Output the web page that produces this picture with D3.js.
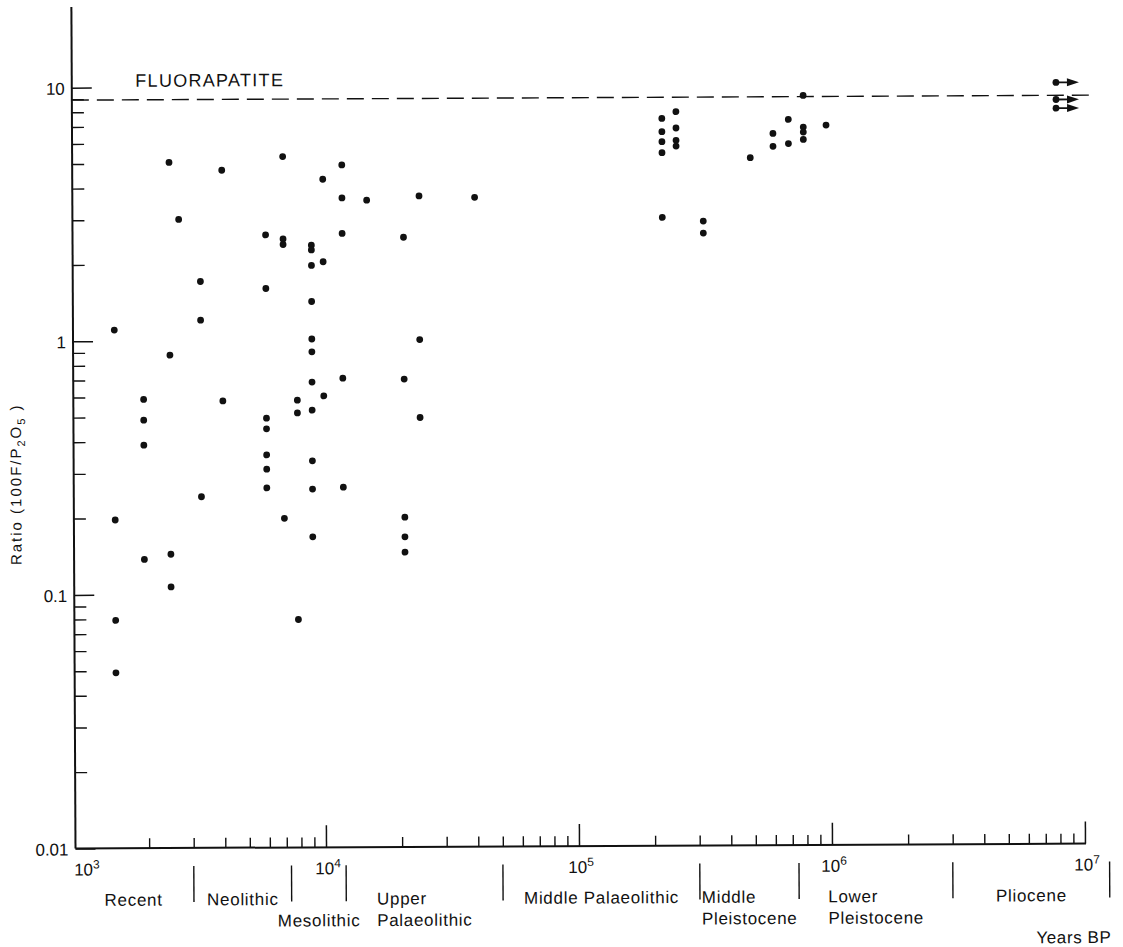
<!DOCTYPE html>
<html>
<head>
<meta charset="utf-8">
<script src="https://cdn.jsdelivr.net/npm/d3@7"></script>
<style>
  body { margin: 0; background: #fff; }
  svg { display: block; }
  text { font-family: "Liberation Sans", Arial, Helvetica, sans-serif; fill: #111; }
</style>
</head>
<body>
<svg id="chart" width="1123" height="947"></svg>
<script>
// ---------------- data ----------------
// ages (years BP) of each column of samples
const ageColumns = [1490, 1940, 2470, 2690, 3270, 3990, 5930, 6950, 7860, 8990,
  10000, 11900, 14900, 20800, 24000, 39800,
  219500, 249600, 318600, 490000, 603000, 694000, 795000, 978000];
// fluorine ratios (100F/P2O5) of the samples in each column
const ratioColumns = [
  [1.105, 0.197, 0.0792, 0.0492],
  [0.588, 0.487, 0.388, 0.1376],
  [5.05, 0.878, 0.144, 0.107],
  [3.01],
  [1.711, 1.204, 0.2424],
  [4.694, 0.578],
  [2.605, 1.601, 0.4934, 0.4477, 0.3535, 0.3105, 0.262],
  [5.30, 2.509, 2.385, 0.1985],
  [0.580, 0.5167, 0.0792],
  [2.368, 2.268, 1.970, 1.420, 1.010, 0.899, 0.683, 0.5296, 0.3343, 0.2586, 0.1677],
  [4.307, 2.036, 0.6024],
  [4.898, 3.632, 2.631, 0.707, 0.2628],
  [3.553],
  [2.534, 0.699, 0.1996, 0.167, 0.1453],
  [3.685, 1.0, 0.4929],
  [3.63],
  [7.37, 6.534, 5.967, 5.398, 3.001],
  [7.834, 6.751, 6.037, 5.73],
  [2.896, 2.598],
  [5.14],
  [6.40, 5.69],
  [7.265, 5.83],
  [9.025, 6.77, 6.47, 6.05],
  [6.887]
];
// Pliocene samples (minimum ages, drawn with arrows)
const arrowAges = [7.94e6, 7.94e6, 7.94e6];
const arrowRatios = [10.04, 8.6, 7.95];
const fluorapatiteRatio = 8.93;
const fluorapatiteLabel = "FLUORAPATITE";

const xMajorTicks = [1e4, 1e5, 1e6, 1e7];
const xTickLabelValues = [1e3, 1e4, 1e5, 1e6, 1e7];
const xTickExponents = ["3", "4", "5", "6", "7"];
const yMajorTicks = [0.01, 0.1, 1, 10];
const yTickLabels = ["0.01", "0.1", "1", "10"];

const eraBoundaries = [3000, 7300, 12000, 50000, 300000, 740000, 3000000, 12500000];
const eraNames = [["Recent"], ["Neolithic"], ["", "Mesolithic"], ["Upper", "Palaeolithic"],
  ["Middle Palaeolithic"], ["Middle", "Pleistocene"], ["Lower", "Pleistocene"], ["Pliocene"]];
const xTitle = "Years BP";

// ---------------- layout ----------------
const axisX = 75.5, axisY = 848.5, scanTilt = -0.28;
const ink = "#111";

const x = d3.scaleLog().domain([1e3, 1e7]).range([73, 1085]);
const y = d3.scaleLog().domain([0.01, 20.8]).range([axisY, 7]);

const svg = d3.select("#chart");
const g = svg.append("g").attr("transform", `rotate(${scanTilt},${axisX},${axisY})`);

// ---------- Y axis ----------
const yMinor = [];
for (let e = -2; e <= 0; e++) for (let m = 2; m <= 9; m++) yMinor.push(+(m * Math.pow(10, e)).toPrecision(3));

g.append("g").attr("transform", `translate(${axisX},0)`).attr("color", ink)
  .call(d3.axisLeft(y).tickValues(yMinor).tickSize(-12).tickFormat(""))
  .call(s => { s.select(".domain").remove(); s.selectAll("line").attr("stroke-width", 1.4); });

g.append("g").attr("transform", `translate(${axisX},0)`).attr("color", ink)
  .call(d3.axisLeft(y).tickValues(yMajorTicks).tickSize(-20).tickPadding(7)
    .tickFormat((d, i) => yTickLabels[i]))
  .call(s => {
    s.select(".domain").remove();
    s.selectAll("line").attr("stroke-width", 1.5);
    s.selectAll("text").style("font-size", "17px").attr("dy", "0.38em");
  });

g.append("line").attr("x1", axisX).attr("x2", axisX)
  .attr("y1", y(0.01)).attr("y2", y(y.domain()[1]))
  .attr("stroke", ink).attr("stroke-width", 2);

// Y title
const yt = g.append("text")
  .attr("transform", `translate(23, 484) rotate(-90)`)
  .attr("text-anchor", "middle")
  .style("font-size", "15px").style("letter-spacing", "2px");
yt.append("tspan").text("Ratio (100F/P");
yt.append("tspan").attr("baseline-shift", "-4").style("font-size", "11px").text("2");
yt.append("tspan").text("O");
yt.append("tspan").attr("baseline-shift", "-4").style("font-size", "11px").text("5");
yt.append("tspan").text(" )");

// ---------- X axis ----------
const xMinor = [];
for (let e = 3; e <= 6; e++) for (let m = 2; m <= 9; m++) xMinor.push(m * Math.pow(10, e));

g.append("g").attr("transform", `translate(0,${axisY})`).attr("color", ink)
  .call(d3.axisBottom(x).tickValues(xMinor).tickSize(-10).tickFormat(""))
  .call(s => { s.select(".domain").remove(); s.selectAll("line").attr("stroke-width", 1.4); });

g.append("g").attr("transform", `translate(0,${axisY})`).attr("color", ink)
  .call(d3.axisBottom(x).tickValues(xMajorTicks).tickSize(-22).tickFormat(""))
  .call(s => { s.select(".domain").remove(); s.selectAll("line").attr("stroke-width", 1.5); });

g.append("line").attr("x1", axisX).attr("x2", x(1e7) + 1)
  .attr("y1", axisY).attr("y2", axisY)
  .attr("stroke", ink).attr("stroke-width", 2);

// x tick labels 10^n
xTickLabelValues.forEach((v, i) => {
  const t = g.append("text")
    .attr("x", i === 0 ? x(v) + 1 : x(v) + 2)
    .attr("y", axisY + 27)
    .attr("text-anchor", i === 0 ? "start" : "middle")
    .style("font-size", "17px");
  t.append("tspan").text("10");
  t.append("tspan").attr("dy", -7).style("font-size", "12px").text(xTickExponents[i]);
});

// era boundaries and names
const eraStarts = [x.domain()[0], ...eraBoundaries.slice(0, -1)];
g.selectAll(".era-line").data(eraBoundaries).join("line")
  .attr("class", "era-line")
  .attr("x1", d => x(d)).attr("x2", d => x(d))
  .attr("y1", axisY + 18).attr("y2", axisY + 54)
  .attr("stroke", ink).attr("stroke-width", 1.4);

eraNames.forEach((lines, i) => {
  const cx = x(Math.sqrt(eraStarts[i] * eraBoundaries[i]));
  const texts = [];
  lines.forEach((ln, j) => {
    if (!ln) return;
    texts.push(g.append("text")
      .attr("x", cx).attr("y", axisY + 57.5 + j * 21.5)
      .attr("text-anchor", "middle")
      .style("font-size", "17px").style("letter-spacing", "0.7px")
      .text(ln));
  });
  if (texts.length > 1) {
    const w = d3.max(texts, t => t.node().getComputedTextLength());
    texts.forEach(t => t.attr("text-anchor", "start").attr("x", cx - w / 2));
  }
});

g.append("text").attr("x", 1111).attr("y", axisY + 99.5)
  .attr("text-anchor", "end").style("font-size", "17px").style("letter-spacing", "0.6px")
  .text(xTitle);

// ---------- fluorapatite line ----------
g.append("line")
  .attr("x1", axisX).attr("x2", x(1e7) + 15)
  .attr("y1", y(fluorapatiteRatio)).attr("y2", y(fluorapatiteRatio))
  .attr("stroke", ink).attr("stroke-width", 1.4).attr("stroke-dasharray", "17,8");
g.append("text").attr("x", 139).attr("y", y(fluorapatiteRatio) - 13)
  .style("font-size", "18px").style("letter-spacing", "1.3px")
  .text(fluorapatiteLabel);

// ---------- points ----------
const points = ageColumns.flatMap((a, i) => ratioColumns[i].map(r => ({ age: a, ratio: r })));
g.selectAll(".pt").data(points).join("circle")
  .attr("class", "pt")
  .attr("cx", d => x(d.age)).attr("cy", d => y(d.ratio))
  .attr("r", 3.4).attr("fill", ink);

// arrows (Pliocene)
const arrows = arrowAges.map((a, i) => ({ age: a, ratio: arrowRatios[i] }));
const ag = g.selectAll(".arrow").data(arrows).join("g").attr("class", "arrow")
  .attr("transform", d => `translate(${x(d.age)},${y(d.ratio)})`);
ag.append("circle").attr("r", 3.4).attr("fill", ink);
ag.append("line").attr("x1", 0).attr("x2", 14).attr("y1", 0).attr("y2", 0)
  .attr("stroke", ink).attr("stroke-width", 1.8);
ag.append("path").attr("d", "M11,-4 L23,0 L11,4 Z").attr("fill", ink);
</script>
</body>
</html>
